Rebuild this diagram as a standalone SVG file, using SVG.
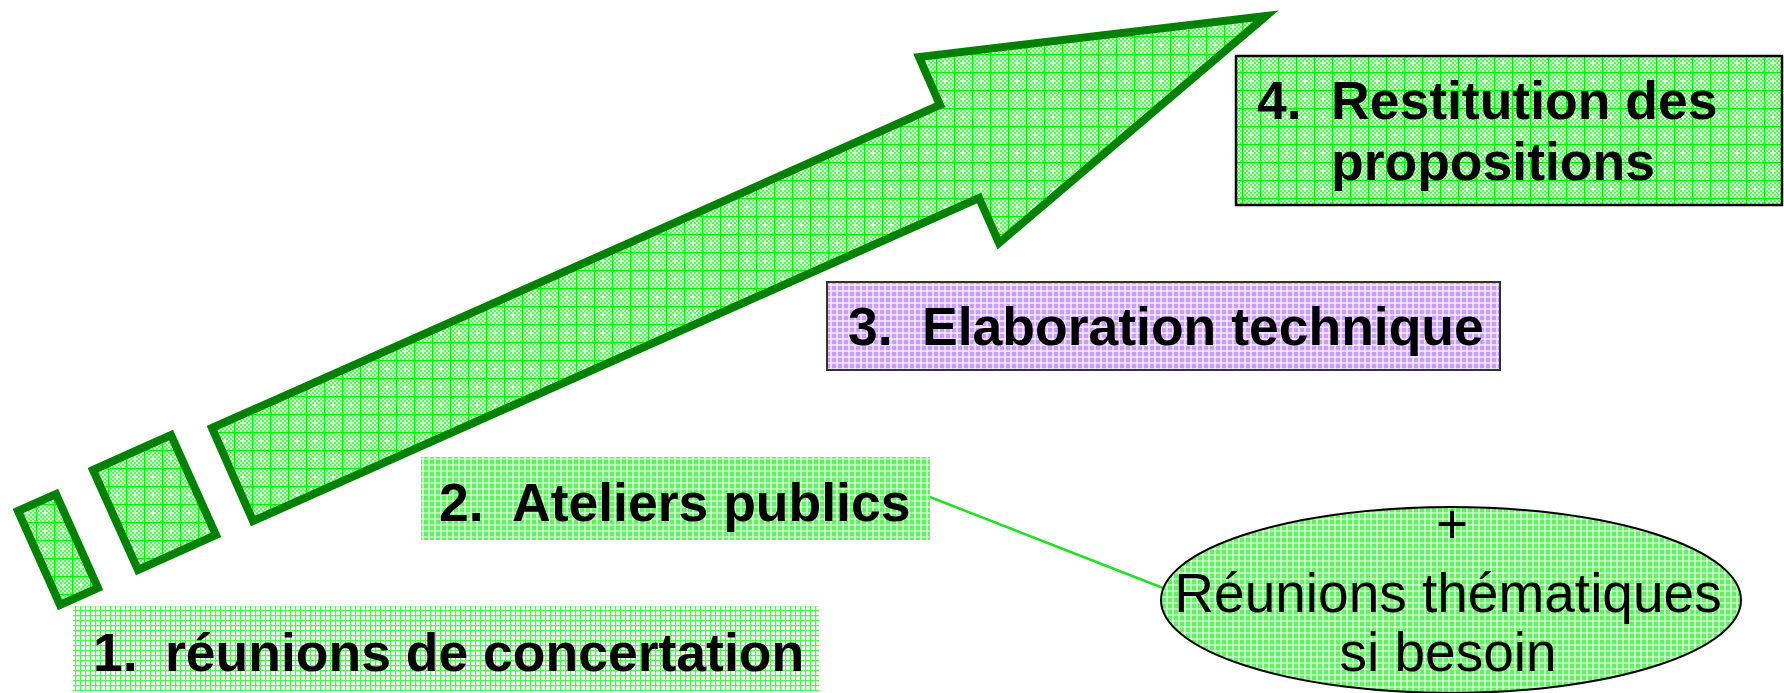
<svg xmlns="http://www.w3.org/2000/svg" width="1784" height="693" viewBox="0 0 1784 693">
<style>
.b{font-family:"Liberation Sans",Arial,sans-serif;font-weight:bold;font-size:53.5px;fill:#000}
.r{font-family:"Liberation Sans",Arial,sans-serif;font-size:55px;fill:#000;text-anchor:middle}
.shape{stroke:#008000;stroke-width:8;stroke-linejoin:miter;fill:url(#gridG)}
</style>
<defs>
<pattern id="chk" width="4" height="4" patternUnits="userSpaceOnUse">
<rect width="4" height="4" fill="#D4FFD4"/>
<rect width="2" height="2" fill="#5AF85A"/>
<rect x="2" y="2" width="2" height="2" fill="#5AF85A"/>
</pattern>
<pattern id="gridG" width="18" height="18" patternUnits="userSpaceOnUse">
<rect width="18" height="18" fill="url(#chk)"/>
<path d="M0.5 0V18M0 0.5H18" stroke="#00F000" stroke-width="1.4"/>
<path d="M9 8V10M8 9H10" stroke="#fff" stroke-width="1"/>
</pattern>
<pattern id="latG" width="6" height="6" patternUnits="userSpaceOnUse">
<rect width="6" height="6" fill="#66EE66"/>
<path d="M3 0V6M0 3H6" stroke="#EDFFED" stroke-width="1.2"/>
</pattern>
<pattern id="latP" width="6" height="6" patternUnits="userSpaceOnUse">
<rect width="6" height="6" fill="#C99EF7"/>
<path d="M3 0V6M0 3H6" stroke="#F6EEFF" stroke-width="1.4"/>
</pattern>
<pattern id="lineG" width="5" height="5" patternUnits="userSpaceOnUse">
<rect width="5" height="5" fill="#F2FFF2"/>
<path d="M0.5 0V5M0 0.5H5" stroke="#55F255" stroke-width="1.3"/>
</pattern>
</defs>

<g id="arrow">
<polygon class="shape" points="18,511 56,494 98,588 60,605"/>
<polygon class="shape" points="93,470 171,435 216,535 138,570"/>
<polygon class="shape" points="212,428 940,105 919,57 1266,16 999,243 979,198 253,521"/>
</g>

<g id="connectors">
<line x1="930" y1="497" x2="1163" y2="588" stroke="#22E022" stroke-width="2.5"/>
</g>

<g id="node4">
<rect x="1236" y="56" width="546" height="149" fill="url(#gridG)" stroke="#000" stroke-width="2.5"/>
<text class="b" x="1257" y="119">4.</text>
<text class="b" x="1331" y="119">Restitution des</text>
<text class="b" x="1331" y="180">propositions</text>
</g>

<g id="node3">
<rect x="827" y="282" width="673" height="88" fill="url(#latP)" stroke="#333" stroke-width="2"/>
<text class="b" x="848" y="345">3.</text>
<text class="b" x="922" y="345">Elaboration technique</text>
</g>

<g id="node2">
<rect x="421" y="457" width="509" height="83" fill="url(#latG)"/>
<text class="b" x="439" y="521">2.</text>
<text class="b" x="512" y="521">Ateliers publics</text>
</g>

<g id="node1">
<rect x="73" y="606" width="746" height="85" fill="url(#lineG)"/>
<text class="b" x="93" y="671">1.</text>
<text class="b" x="165" y="671">réunions de concertation</text>
</g>

<g id="node5">
<ellipse cx="1451" cy="600" rx="290" ry="93" fill="url(#latG)" stroke="#000" stroke-width="2"/>
<text class="r" x="1452" y="543">+</text>
<text class="r" x="1448" y="612">Réunions thématiques</text>
<text class="r" x="1448" y="671">si besoin</text>
</g>
</svg>
